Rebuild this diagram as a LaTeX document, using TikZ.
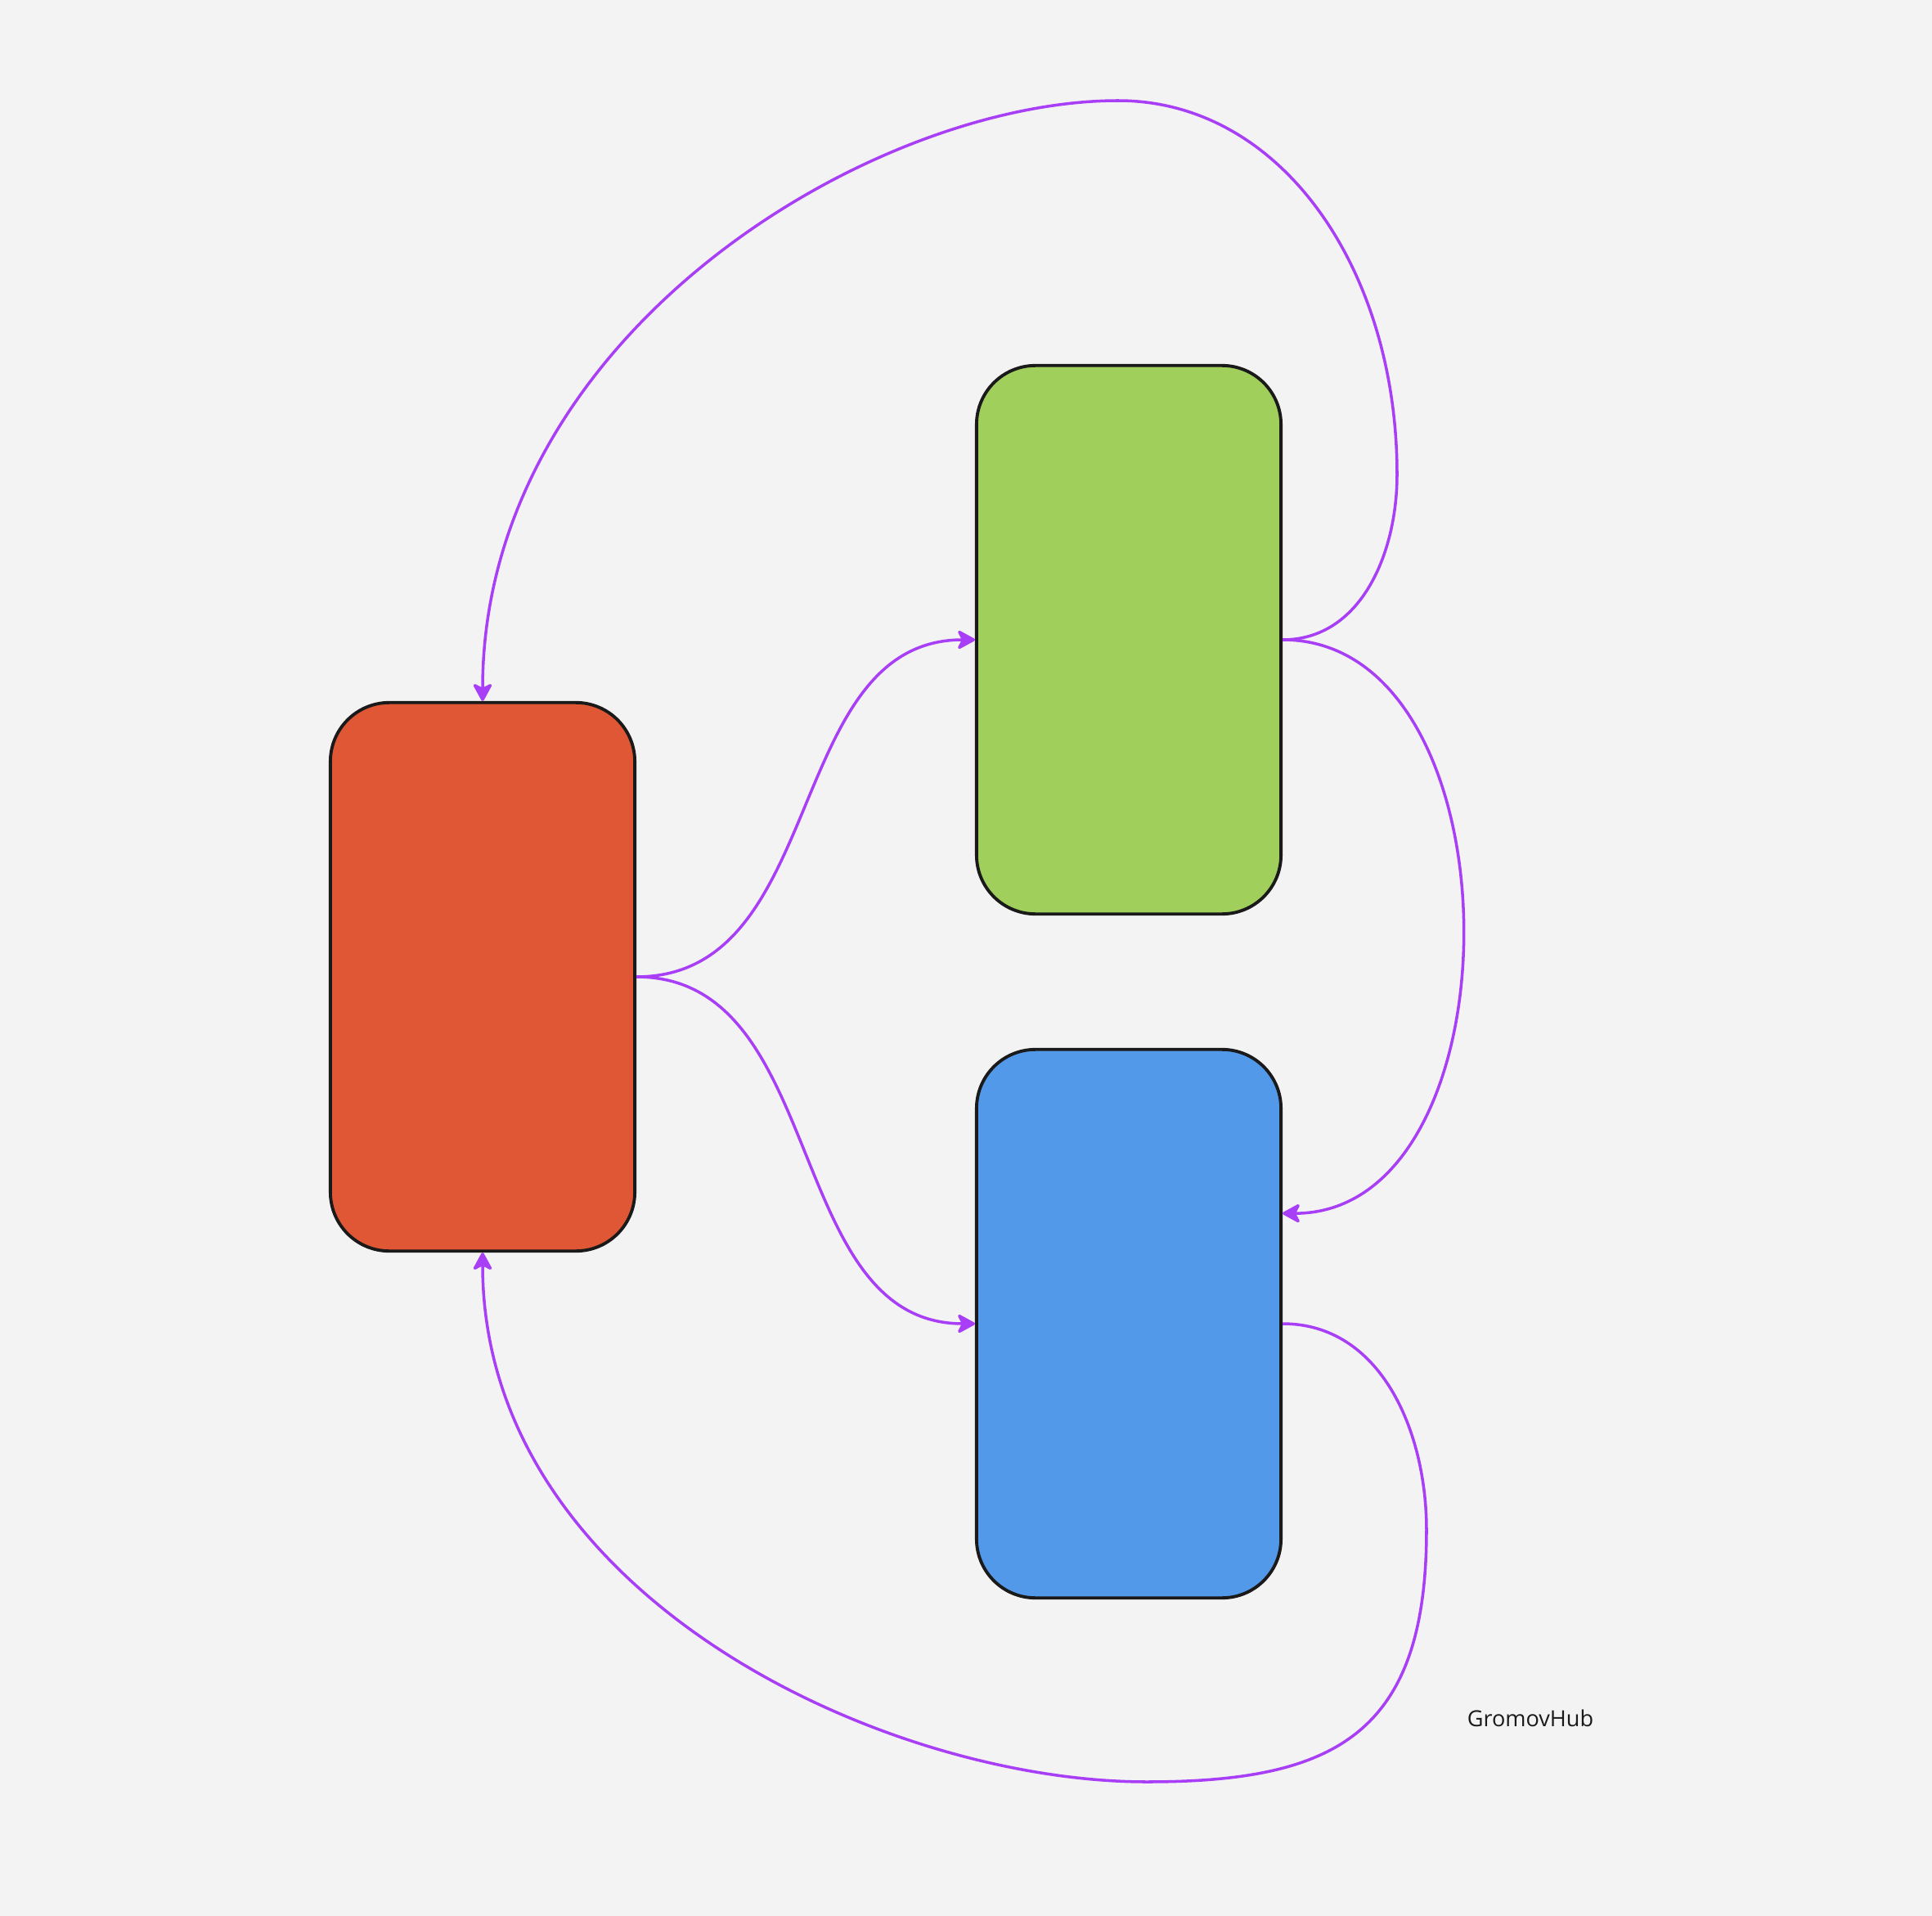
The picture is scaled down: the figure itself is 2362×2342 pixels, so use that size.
\documentclass[tikz,border=0pt]{standalone}
\usepackage{fontspec}
\setmainfont{Open Sans}
\definecolor{canvasgray}{RGB}{243,243,243}
\definecolor{boxred}{RGB}{224,87,53}
\definecolor{boxgreen}{RGB}{160,207,92}
\definecolor{boxblue}{RGB}{82,153,234}
\definecolor{linkpurple}{RGB}{168,62,245}
\definecolor{edgeblack}{RGB}{26,26,26}
\usetikzlibrary{arrows.meta,positioning,calc}

\tikzset{
    block/.style={draw=edgeblack, line width=1.1pt, rounded corners=0.72cm,
        minimum width=3.72cm, minimum height=6.70cm, inner sep=0pt},
    link/.style={draw=linkpurple, line width=1pt,
        -{Stealth[length=0.25cm, width=0.27cm, inset=0.07cm, round]}},
}

\begin{document}
\begin{tikzpicture}[x=0.01cm, y=-0.01cm]
    \fill[canvasgray] (0,0) rectangle (2362,2342);

    \node[block, fill=boxred] (red) at (590,1194) {};
    \node[block, fill=boxgreen] (green) at (1380,782) {};
    \node[block, fill=boxblue] (blue) at (1380,1618) {};
    \node[font=\fontsize{7.7pt}{9pt}\selectfont, text=edgeblack] (brand) at (1871,2100) {GromovHub};

    % turning points of the two outer loops
    \coordinate (topEast) at (1708,580);
    \coordinate (topPeak) at (1367,123);
    \coordinate (lowEast) at (1744,1870);
    \coordinate (lowPeak) at (1402,2178);
    \coordinate (blueIn) at ($(blue.north east)!0.3!(blue.south east)$);

    \draw[link] (red.east) .. controls +(235,0) and +(-235,0) .. (green.west);
    \draw[link] (red.east) .. controls +(235,0) and +(-235,0) .. (blue.west);
    \draw[link] (green.east) .. controls +(293,0) and +(293,0) .. (blueIn);
    \draw[link] (green.east) to[out=0, in=-90] (topEast)
        .. controls +(0,-250) and +(200,0) .. (topPeak)
        .. controls +(-300,0) and +(0,-450) .. (red.north);
    \draw[link] (blue.east) to[out=0, in=90] (lowEast)
        .. controls +(0,250) and +(230,0) .. (lowPeak)
        .. controls +(-320,0) and +(0,420) .. (red.south);
\end{tikzpicture}
\end{document}
